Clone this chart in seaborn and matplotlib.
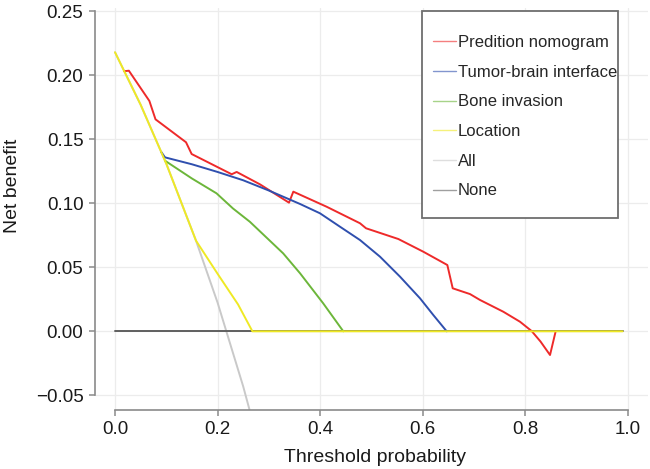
import matplotlib
matplotlib.use("Agg")
import matplotlib.pyplot as plt
from matplotlib.lines import Line2D
from matplotlib.patches import Rectangle
import seaborn as sns
import pandas as pd

# ---- data ----
series_names = ["Predition nomogram", "Tumor-brain interface", "Bone invasion",
                "Location", "All", "None"]

red_x = [0.018, 0.027, 0.067, 0.079, 0.1385, 0.1495, 0.2276, 0.2373, 0.2828, 0.3394,
         0.3478, 0.4129, 0.4779, 0.4896, 0.5527, 0.6013, 0.6482, 0.6587, 0.6924,
         0.7119, 0.7574, 0.7899, 0.8127, 0.830, 0.8485, 0.8595]
red_y = [0.2032, 0.2036, 0.180, 0.1656, 0.1477, 0.1385, 0.1227, 0.1245, 0.1148, 0.1005,
         0.1091, 0.0973, 0.0844, 0.0805, 0.0721, 0.0622, 0.0518, 0.0336, 0.0291,
         0.0245, 0.0153, 0.0075, 0.0002, -0.008, -0.0185, 0.0]

blue_x = [0.09, 0.0975, 0.15, 0.2, 0.25, 0.3, 0.3608, 0.3998, 0.4389,
          0.4779, 0.5169, 0.5559, 0.5949, 0.6209, 0.647]
blue_y = [0.1402, 0.1359, 0.1305, 0.1245, 0.118, 0.110, 0.0995, 0.0922,
          0.0817, 0.0713, 0.0583, 0.0427, 0.0258, 0.0127, 0.0]

green_x = [0.0975, 0.15, 0.198, 0.23, 0.263, 0.328, 0.361, 0.406, 0.4453]
green_y = [0.1333, 0.1194, 0.1078, 0.096, 0.0856, 0.0609, 0.0453, 0.0219, 0.0]

loc_x = [0.0, 0.05, 0.1, 0.158, 0.2, 0.24, 0.268, 0.99]
loc_y = [0.218, 0.177, 0.131, 0.0708, 0.045, 0.021, 0.0, 0.0]

all_x = [0.0, 0.05, 0.1, 0.158, 0.2, 0.25, 0.3]
all_y = [0.218, 0.177, 0.131, 0.0708, 0.0225, -0.043, -0.117]

none_x = [0.0, 0.99]
none_y = [0.0, 0.0]

x_ticks = [0.0, 0.2, 0.4, 0.6, 0.8, 1.0]
y_ticks = [-0.05, 0.00, 0.05, 0.10, 0.15, 0.20, 0.25]

colors = {"Predition nomogram": "#ee2a2a", "Tumor-brain interface": "#2f4fae",
          "Bone invasion": "#6cb63a", "Location": "#efe924",
          "All": "#c9c9c9", "None": "#5f5f5f"}

# ---- figure ----
sns.set_style("white")
plt.rcParams["font.family"] = ["Liberation Sans", "DejaVu Sans"]

fig = plt.figure(figsize=(6.5, 4.69), dpi=100)
ax = fig.add_axes([94.5 / 650, 58.7 / 469, 553.7 / 650, 402.2 / 469])

data = {
    "Predition nomogram": (red_x, red_y, 3),
    "Tumor-brain interface": (blue_x, blue_y, 4),
    "Bone invasion": (green_x, green_y, 5),
    "Location": (loc_x, loc_y, 6),
    "All": (all_x, all_y, 1),
    "None": (none_x, none_y, 2),
}
for name in series_names:
    xs, ys, z = data[name]
    df = pd.DataFrame({"x": xs, "y": ys})
    sns.lineplot(data=df, x="x", y="y", ax=ax, color=colors[name], lw=1.4,
                 estimator=None, sort=False, legend=False)
    ax.lines[-1].set_zorder(z)

ax.set_xlim(-0.04, 1.04)
ax.set_ylim(-0.0617, 0.2525)
ax.set_xticks(x_ticks)
ax.set_xticklabels([f"{v:.1f}" for v in x_ticks])
ax.set_yticks(y_ticks)
ax.set_yticklabels([f"{v:.2f}".replace("-", "\u2212") for v in y_ticks])

ax.grid(True, color="#ececec", lw=0.9, zorder=0)
ax.set_axisbelow(True)
for s in ["top", "right"]:
    ax.spines[s].set_visible(False)
ax.spines["left"].set_bounds(-0.05, 0.25)
ax.spines["bottom"].set_bounds(0.0, 1.0)
for s in ["left", "bottom"]:
    ax.spines[s].set_color("#8a8a8a")
    ax.spines[s].set_linewidth(1.2)
ax.tick_params(axis="both", which="major", direction="out", length=4, width=1.1,
               color="#8a8a8a", labelsize=13.5, labelcolor="#1a1a1a", pad=4,
               left=True, bottom=True)

ax.set_xlabel("Threshold probability", fontsize=14, color="#1a1a1a")
ax.set_ylabel("Net benefit", fontsize=14, color="#1a1a1a")
ax.xaxis.set_label_coords(0.507, -0.095)
ax.yaxis.set_label_coords(-0.133, 0.558)

# legend box
rect = Rectangle((422 / 650, 1 - 218 / 469), 196 / 650, 207 / 469,
                 transform=fig.transFigure, facecolor="white", edgecolor="#6e6e6e",
                 lw=1.3, zorder=7, clip_on=False)
ax.add_patch(rect)
handles = [Line2D([], [], color=colors[n], lw=1.0, alpha=0.6) for n in series_names]
leg = ax.legend(handles, series_names, loc="upper left",
                bbox_to_anchor=(433 / 650, 1 - 35.1 / 469),
                bbox_transform=fig.transFigure, frameon=False, fontsize=12,
                handlelength=1.4, handletextpad=0.1, labelspacing=0.88,
                borderpad=0, borderaxespad=0)
leg.set_zorder(8)

fig.savefig("out.png", dpi=100)
